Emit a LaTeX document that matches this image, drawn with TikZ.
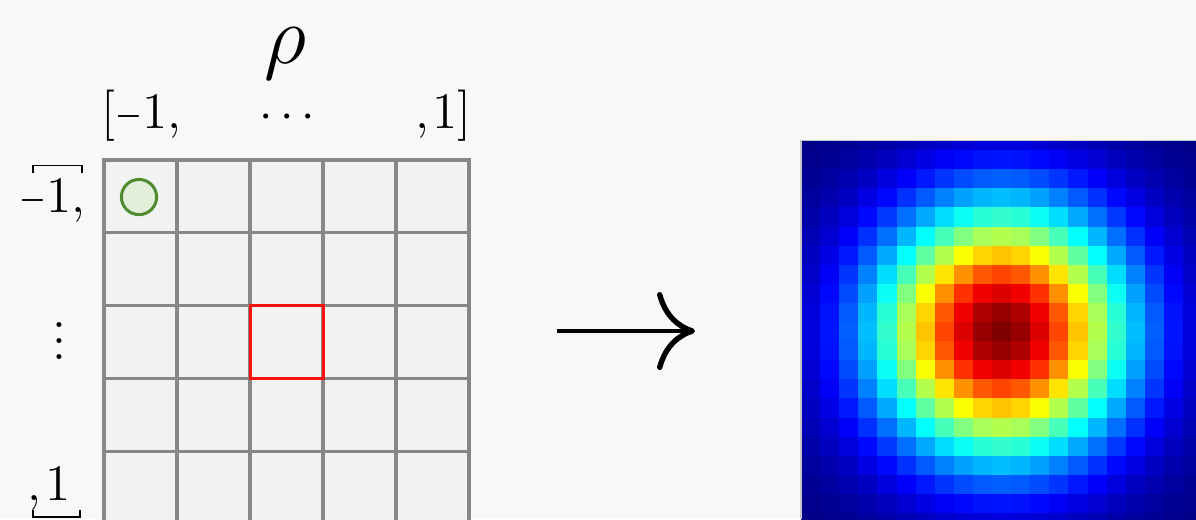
\documentclass[tikz,border=0pt]{standalone}
\usetikzlibrary{arrows.meta}

\definecolor{bgc}{HTML}{F8F8F8}
\definecolor{cellfill}{HTML}{F1F2F2}
\definecolor{gridgray}{HTML}{878787}
\definecolor{ringgreen}{HTML}{4F8C30}
\definecolor{ringfill}{HTML}{E2EED8}
\definecolor{markred}{HTML}{FF1010}

% a narrower minus sign for the index labels
\newcommand{\shortminus}{\scalebox{0.72}[1]{$-$}}

\begin{document}
\begin{tikzpicture}[x=0.25pt,y=-0.25pt,
  lbl/.style={inner sep=0pt, font=\fontsize{12.8}{15}\selectfont},
  biglbl/.style={inner sep=0pt, font=\fontsize{22}{26}\selectfont},
  gridline/.style={draw=gridgray, line width=0.8pt},
  bracketline/.style={draw=black, line width=0.45pt},
  mapsto/.style={line width=1.15pt, -{Computer Modern Rightarrow[length=9.5pt,width=19.5pt,line width=1.35pt]}}]

\clip (0,0) rectangle (1196,519);
\fill[bgc] (0,0) rectangle (1196,519);

% ---- index grid ----
\fill[cellfill] (104,160) rectangle (469,524);
\foreach \c in {1,...,4}
  \draw[gridline] (104+73*\c,160) -- (104+73*\c,530);
\foreach \r in {1,...,4}
  \draw[gridline] (104,160+72.8*\r) -- (469,160+72.8*\r);
\draw[gridline] (104,530) -- (104,160) -- (469,160) -- (469,530);

% highlighted cell and sample point
\draw[markred, line width=0.75pt] (250,305.6) rectangle (323,378.4);
\draw[ringgreen, fill=ringfill, line width=0.75pt] (139,197) circle[radius=4.4pt];

% ---- axis labels ----
\node[biglbl, anchor=base] (rho) at (285,63) {$\rho$};
\node[lbl, anchor=base west] (toplo) at (100.5,128) {[\shortminus1,};
\node[lbl, anchor=base] (topdots) at (287,128) {$\cdots$};
\node[lbl, anchor=base east] (tophi) at (472.5,128) {,\kern0.8pt1]};

\node[lbl, anchor=base east] (leftlo) at (86,212) {\shortminus1,};
\node[lbl, anchor=base] (leftdots) at (59,359.5) {$\vdots$};
\node[lbl, anchor=base east] (lefthi) at (71,500) {,\kern0.8pt1};

\draw[bracketline] (33,173) -- (33,165.5) -- (82,165.5) -- (82,173);
\draw[bracketline] (33,510) -- (33,517) -- (80,517) -- (80,510);

% ---- mapping arrow ----
\coordinate (arrowtail) at (557,331);
\coordinate (arrowtip) at (695,331);
\draw[mapsto] (arrowtail) -- (arrowtip);

% ---- density map (jet colour scale) ----
\begin{scope}
  \clip (801,140.5) rectangle (1196,519);
  \foreach \i in {0,...,20}{
    \foreach \j in {0,...,20}{
      \pgfmathsetmacro\heatV{exp(-((\i-10)*(\i-10)+(\j-10)*(\j-10))/42)}
      \pgfmathsetmacro\heatR{max(0,min(1,1.5-abs(4*\heatV-3)))}
      \pgfmathsetmacro\heatG{max(0,min(1,1.5-abs(4*\heatV-2)))}
      \pgfmathsetmacro\heatB{max(0,min(1,1.5-abs(4*\heatV-1)))}
      \definecolor{heatcell}{rgb}{\heatR,\heatG,\heatB}
      \fill[heatcell] (801+19.1*\j,322+19.1*\i-191) rectangle ++(19.4,19.4);
    }
  }
\end{scope}
\draw[gray!45, line width=0.3pt] (801,519) -- (801,140.5) -- (1196,140.5);

\end{tikzpicture}
\end{document}
